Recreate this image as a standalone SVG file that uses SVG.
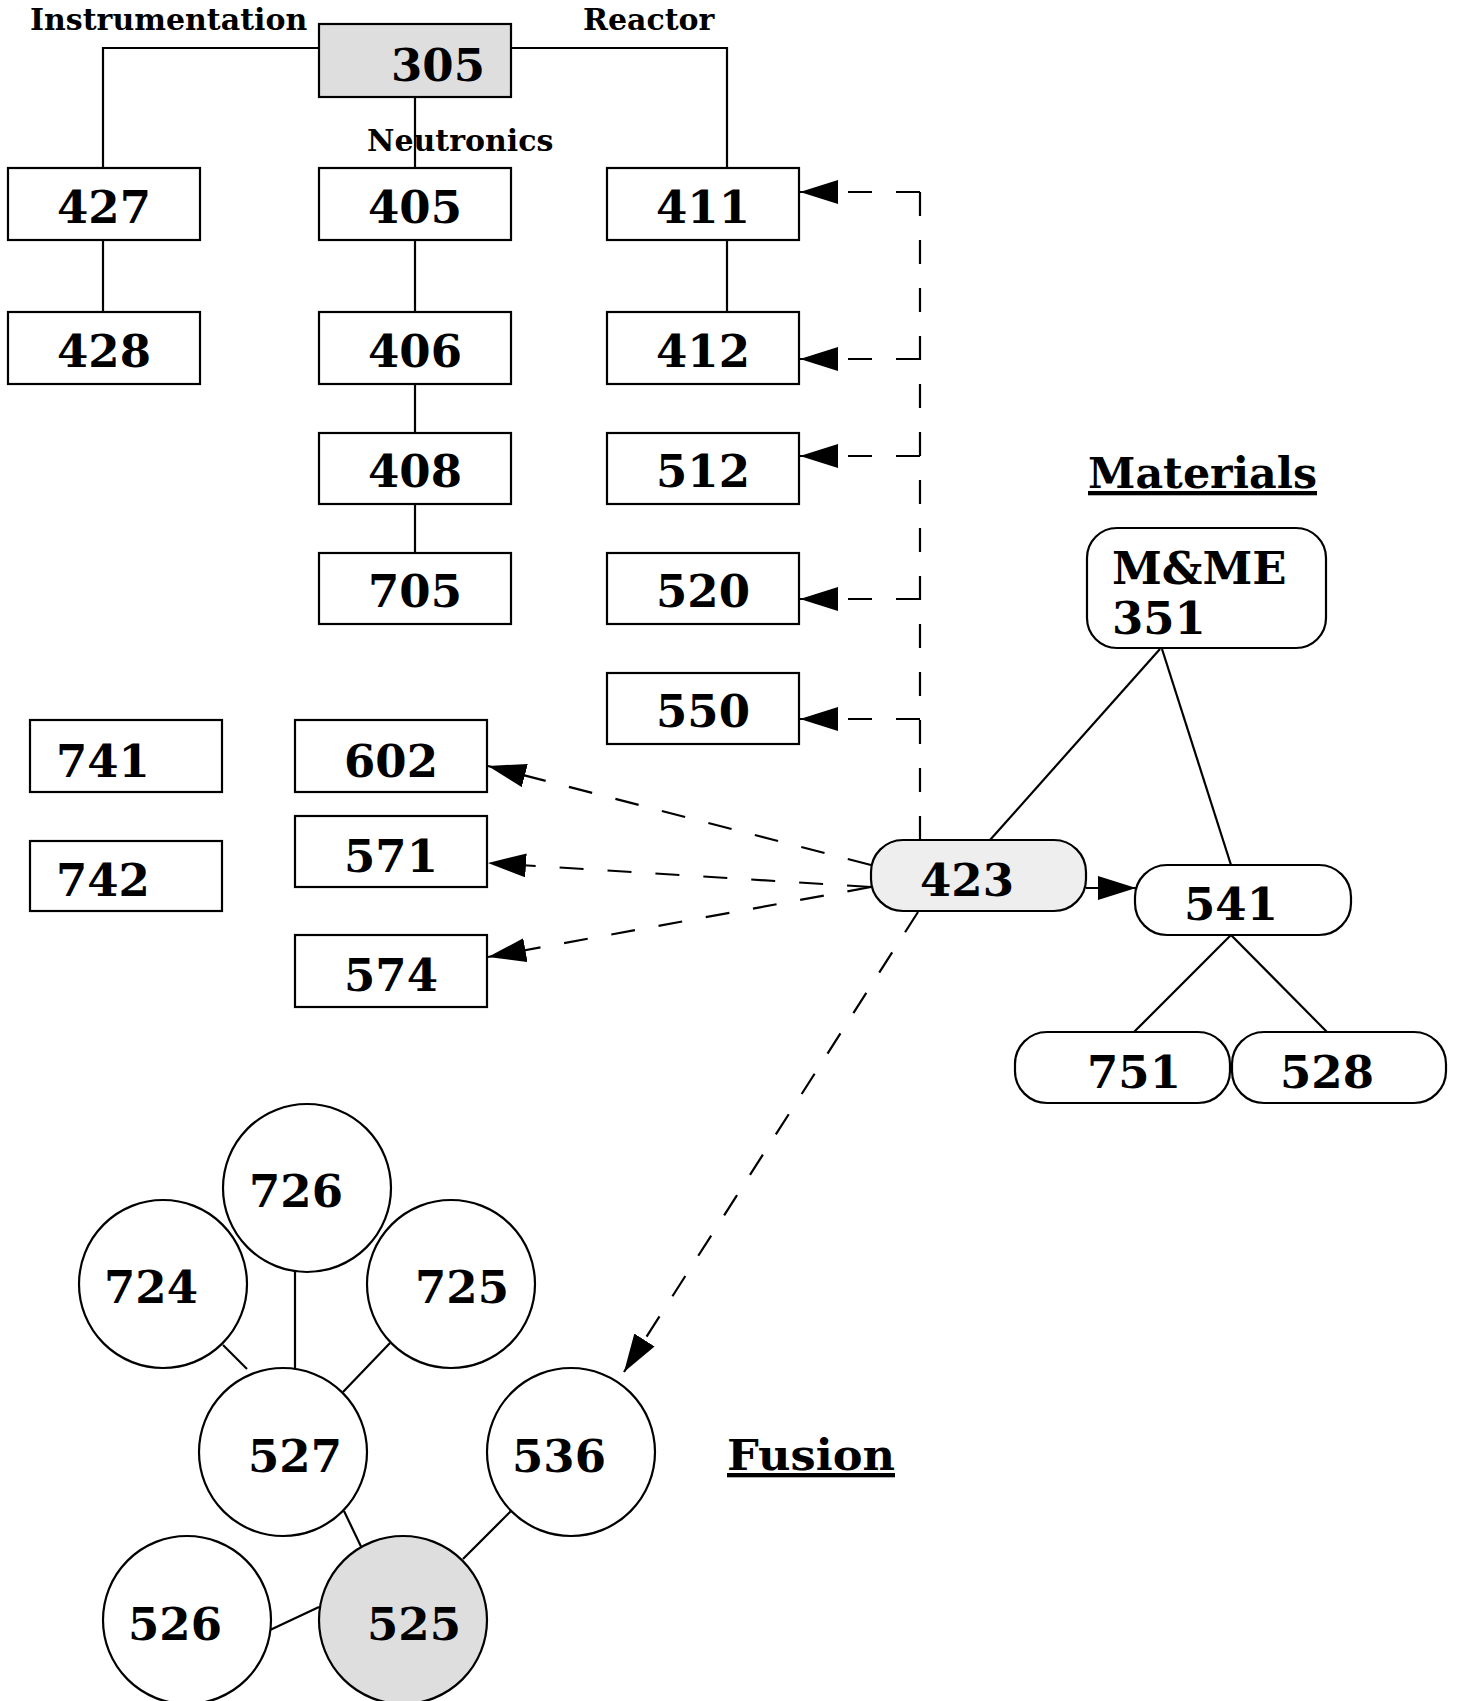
<svg xmlns="http://www.w3.org/2000/svg" width="1458" height="1701" viewBox="0 0 1458 1701">
<style>
.box{fill:#fff;stroke:#000;stroke-width:2.2}
.gray{fill:#dedede}
.lgray{fill:#eeeeee}
.num{font-family:"DejaVu Serif","Liberation Serif",serif;font-weight:bold;font-size:45px;fill:#000}
.lbl{font-family:"DejaVu Serif","Liberation Serif",serif;font-weight:bold;font-size:30px;fill:#000}
.head{font-family:"DejaVu Serif","Liberation Serif",serif;font-weight:bold;font-size:43px;fill:#000;text-decoration:underline}
.ln{fill:none;stroke:#000;stroke-width:2.2}
.dash{fill:none;stroke:#000;stroke-width:2.2;stroke-dasharray:24 24}
</style>
<defs>
<marker id="arr" viewBox="0 0 38 24" refX="38" refY="12" markerWidth="38" markerHeight="24" markerUnits="userSpaceOnUse" orient="auto">
<path d="M0,0 L38,12 L0,24 Z" fill="#000"/>
</marker>
</defs>
<rect width="1458" height="1701" fill="#fff"/>

<g id="connectors">
<!-- tree -->
<path class="ln" d="M319,48 H103 V168"/>
<path class="ln" d="M511,48 H727 V168"/>
<path class="ln" d="M415,97 V168"/>
<path class="ln" d="M103,240 V312"/>
<path class="ln" d="M415,240 V312"/>
<path class="ln" d="M415,384 V433"/>
<path class="ln" d="M415,504 V553"/>
<path class="ln" d="M727,240 V312"/>
<!-- 423 dashed to reactor: shared trunk then branches -->
<path class="dash" d="M920,192 V840"/>
<path class="dash" d="M920,192 H800" marker-end="url(#arr)"/>
<path class="dash" d="M920,359 H800" marker-end="url(#arr)"/>
<path class="dash" d="M920,456 H800" marker-end="url(#arr)"/>
<path class="dash" d="M920,599 H800" marker-end="url(#arr)"/>
<path class="dash" d="M920,719 H800" marker-end="url(#arr)"/>
<!-- 423 to left boxes -->
<path class="dash" d="M871,865 L488,766" marker-end="url(#arr)"/>
<path class="dash" d="M871,887 L488,863" marker-end="url(#arr)"/>
<path class="dash" d="M871,887 L488,957" marker-end="url(#arr)"/>
<!-- 423 to 536 -->
<path class="dash" d="M918,912 L624,1372" marker-end="url(#arr)"/>
<!-- materials -->
<path class="ln" d="M1160,649 L990,840"/>
<path class="ln" d="M1162,649 L1231,865"/>
<path class="ln" d="M1086,888 L1136,888" marker-end="url(#arr)"/>
<path class="ln" d="M1231,935 L1134,1032"/>
<path class="ln" d="M1231,935 L1327,1032"/>
<!-- fusion -->
<path class="ln" d="M295,1271 V1369"/>
<path class="ln" d="M223,1345 L247,1369"/>
<path class="ln" d="M390,1343 L343,1392"/>
<path class="ln" d="M344,1511 L367,1559"/>
<path class="ln" d="M511,1511 L463,1559"/>
<path class="ln" d="M270,1630 L319,1607"/>
</g>

<g id="labels">
<text class="lbl" x="30" y="30">Instrumentation</text>
<text class="lbl" x="583" y="30">Reactor</text>
<text class="lbl" x="367" y="151">Neutronics</text>
<text class="head" x="1088" y="488" textLength="229" lengthAdjust="spacingAndGlyphs">Materials</text>
<text class="head" x="727" y="1470" textLength="168" lengthAdjust="spacingAndGlyphs">Fusion</text>
</g>

<g id="n305"><rect class="box gray" x="319" y="24" width="192" height="73"/><text class="num" x="438" y="81" text-anchor="middle">305</text></g>
<g id="n427"><rect class="box" x="8" y="168" width="192" height="72"/><text class="num" x="104" y="223" text-anchor="middle">427</text></g>
<g id="n428"><rect class="box" x="8" y="312" width="192" height="72"/><text class="num" x="104" y="367" text-anchor="middle">428</text></g>
<g id="n405"><rect class="box" x="319" y="168" width="192" height="72"/><text class="num" x="415" y="223" text-anchor="middle">405</text></g>
<g id="n406"><rect class="box" x="319" y="312" width="192" height="72"/><text class="num" x="415" y="367" text-anchor="middle">406</text></g>
<g id="n408"><rect class="box" x="319" y="433" width="192" height="71"/><text class="num" x="415" y="487" text-anchor="middle">408</text></g>
<g id="n705"><rect class="box" x="319" y="553" width="192" height="71"/><text class="num" x="415" y="607" text-anchor="middle">705</text></g>
<g id="n411"><rect class="box" x="607" y="168" width="192" height="72"/><text class="num" x="703" y="223" text-anchor="middle">411</text></g>
<g id="n412"><rect class="box" x="607" y="312" width="192" height="72"/><text class="num" x="703" y="367" text-anchor="middle">412</text></g>
<g id="n512"><rect class="box" x="607" y="433" width="192" height="71"/><text class="num" x="703" y="487" text-anchor="middle">512</text></g>
<g id="n520"><rect class="box" x="607" y="553" width="192" height="71"/><text class="num" x="703" y="607" text-anchor="middle">520</text></g>
<g id="n550"><rect class="box" x="607" y="673" width="192" height="71"/><text class="num" x="703" y="727" text-anchor="middle">550</text></g>
<g id="n741"><rect class="box" x="30" y="720" width="192" height="72"/><text class="num" x="56" y="777">741</text></g>
<g id="n742"><rect class="box" x="30" y="841" width="192" height="70"/><text class="num" x="56" y="896">742</text></g>
<g id="n602"><rect class="box" x="295" y="720" width="192" height="72"/><text class="num" x="391" y="777" text-anchor="middle">602</text></g>
<g id="n571"><rect class="box" x="295" y="816" width="192" height="71"/><text class="num" x="391" y="872" text-anchor="middle">571</text></g>
<g id="n574"><rect class="box" x="295" y="935" width="192" height="72"/><text class="num" x="391" y="991" text-anchor="middle">574</text></g>

<g id="n423"><rect class="box lgray" x="871" y="840" width="215" height="71" rx="32" ry="32"/><text class="num" x="967" y="896" text-anchor="middle">423</text></g>
<g id="n351"><rect class="box" x="1087" y="528" width="239" height="120" rx="30" ry="30"/><text class="num" x="1112" y="584" font-size="43">M&amp;ME</text><text class="num" x="1112" y="634">351</text></g>
<g id="n541"><rect class="box" x="1135" y="865" width="216" height="70" rx="32" ry="32"/><text class="num" x="1231" y="920" text-anchor="middle">541</text></g>
<g id="n751"><rect class="box" x="1015" y="1032" width="215" height="71" rx="32" ry="32"/><text class="num" x="1134" y="1088" text-anchor="middle">751</text></g>
<g id="n528"><rect class="box" x="1232" y="1032" width="214" height="71" rx="32" ry="32"/><text class="num" x="1327" y="1088" text-anchor="middle">528</text></g>

<g id="n726"><circle class="box" cx="307" cy="1188" r="84"/><text class="num" x="296" y="1207" text-anchor="middle">726</text></g>
<g id="n724"><circle class="box" cx="163" cy="1284" r="84"/><text class="num" x="151" y="1303" text-anchor="middle">724</text></g>
<g id="n725"><circle class="box" cx="451" cy="1284" r="84"/><text class="num" x="462" y="1303" text-anchor="middle">725</text></g>
<g id="n527"><circle class="box" cx="283" cy="1452" r="84"/><text class="num" x="295" y="1472" text-anchor="middle">527</text></g>
<g id="n536"><circle class="box" cx="571" cy="1452" r="84"/><text class="num" x="559" y="1472" text-anchor="middle">536</text></g>
<g id="n526"><circle class="box" cx="187" cy="1620" r="84"/><text class="num" x="175" y="1640" text-anchor="middle">526</text></g>
<g id="n525"><circle class="box gray" cx="403" cy="1620" r="84"/><text class="num" x="414" y="1640" text-anchor="middle">525</text></g>
</svg>
